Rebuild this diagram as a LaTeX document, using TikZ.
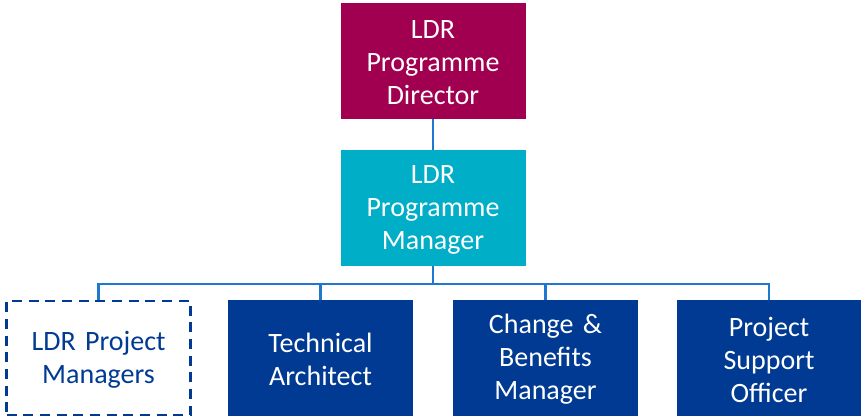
\documentclass[tikz,border=0pt]{standalone}
\usepackage{fontspec}
\setmainfont{Carlito}
\usetikzlibrary{positioning,calc}
\definecolor{roleDir}{HTML}{A10050}
\definecolor{roleMgr}{HTML}{00AEC8}
\definecolor{roleTeam}{HTML}{003A92}
\definecolor{linkline}{HTML}{1E78CF}

\begin{document}
\begin{tikzpicture}[x=0.75pt,y=-0.75pt,
  box/.style={align=center,inner sep=2pt,text width=134pt,minimum width=138.75pt,minimum height=87pt,
    font=\fontsize{21}{24.75}\selectfont,text=white,text height=17pt},
  team/.style={box,fill=roleTeam},
  link/.style={draw=linkline,line width=2pt}
]
\useasboundingbox (0,0) rectangle (861,419);
\node[box,fill=roleDir] (director) at (433,60.5) {LDR\\Programme\\Director};
\node[box,fill=roleMgr] (manager) at (433,208) {LDR\\Programme\\Manager};
\node[box,text=roleTeam,draw=roleTeam,line width=2pt,dash pattern=on 7.5pt off 5pt,
  minimum width=138pt,minimum height=85.5pt] (projmgrs) at (98.5,358) {LDR Project\\Managers};
\draw[link] (director.south) -- (manager.south |- manager.north);
\coordinate (bus) at (433,284);
\draw[link] (manager.south) -- (bus) -| (projmgrs.north);
\foreach \x/\name/\desc in {320.5/techarch/Technical\\Architect,545.5/changeben/Change \&\\Benefits\\Manager,769/support/Project\\Support\\Officer} {
  \node[team] (\name) at (\x,358) {\desc};
  \draw[link] (bus) -| (\name.north);
}
\end{tikzpicture}
\end{document}
